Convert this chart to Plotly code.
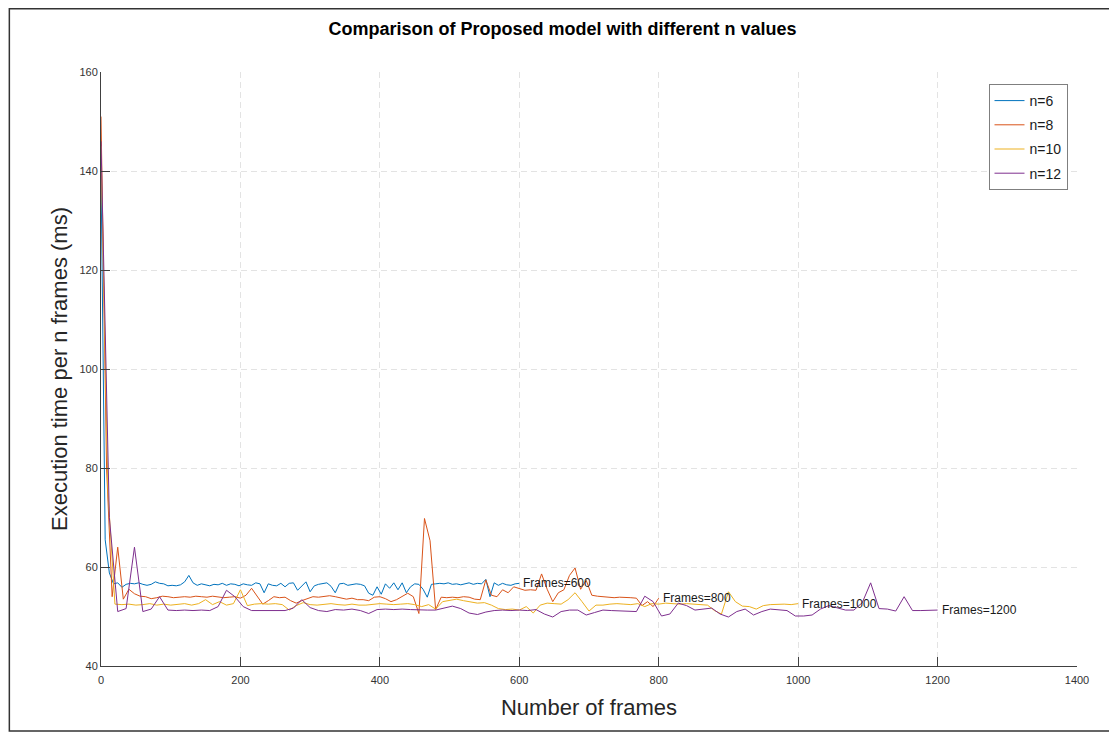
import plotly.graph_objects as go

# ---------------- data ----------------
n_values = [6, 8, 10, 12]
series_names = ["n=6", "n=8", "n=10", "n=12"]

time_n6 = [
    140, 65.5, 58.8, 56.6, 56.8, 55.9, 56.5, 56.7, 56.6, 56.8,
    56.5, 56.3, 56.5, 57.0, 56.7, 56.6, 56.2, 56.3, 56.2, 56.4,
    57.0, 58.3, 56.8, 56.3, 56.6, 56.4, 56.2, 56.5, 56.4, 56.7,
    56.3, 56.6, 56.5, 56.2, 56.6, 56.4, 56.3, 56.8, 56.6, 54.8,
    56.6, 56.3, 56.2, 56.7, 56.0, 56.7, 56.8, 55.3, 56.2, 57.0,
    55.0, 56.2, 56.5, 56.7, 56.8, 56.1, 54.8, 56.6, 56.7, 56.3,
    56.4, 56.6, 56.5, 56.2, 54.7, 54.3, 56.0, 54.5, 56.6, 55.7,
    56.8, 55.4, 56.8, 54.8, 56.0, 56.6, 56.5, 55.5, 53.9, 56.5,
    56.6, 56.7, 56.6, 56.8, 56.5, 56.6, 56.4, 56.6, 56.8, 56.5,
    56.7, 56.6, 57.5, 54.0, 56.8, 56.3, 56.7, 56.4, 56.3, 56.6,
    56.7,
]
time_n8 = [
    151, 80, 54, 64, 53.5, 55.5, 54.6, 54.1, 54.0, 53.6,
    53.8, 54.1, 54.0, 53.8, 53.9, 54.0, 53.9, 54.1, 54.0, 53.9,
    54.1, 54.0, 53.8, 53.9, 54.0, 53.7, 54.3, 55.7, 54.0, 52.5,
    53.2, 54.0, 53.8, 53.9, 53.2, 52.7, 53.2, 53.6, 54.0, 53.9,
    54.1, 54.2, 54.0, 53.7, 53.5, 53.7, 53.4, 53.4, 53.2, 53.9,
    54.0, 53.6, 53.0, 53.4, 54.0, 54.7, 54.0, 50.6, 69.8, 65.3,
    51.4, 53.9, 53.8, 53.9, 53.8, 54.0, 53.9, 53.5, 53.4, 57.4,
    54.3, 54.0, 55.4, 54.8, 56.0, 55.7, 55.3, 55.4, 55.3, 58.6,
    55.5, 53.0, 54.8, 55.4, 58.3, 59.8, 55.5, 57.3, 54.3, 54.1,
    54.0, 54.0, 53.8, 53.9, 53.9, 53.8, 53.7, 52.2, 53.0, 52.0,
    53.7,
]
time_n10 = [
    145, 75, 52.5, 52.4, 52.5, 52.3, 52.4, 52.6, 52.3, 52.5,
    52.3, 52.4, 52.6, 52.3, 52.6, 53.4, 52.4, 53.0, 52.3, 52.6,
    55.4, 52.2, 52.5, 52.6, 52.5, 52.6, 52.4, 51.3, 52.2, 52.8,
    52.4, 52.3, 52.5, 52.6, 52.4, 52.3, 52.5, 52.3, 52.3, 52.5,
    52.6, 52.5, 52.4, 52.5, 52.6, 52.4, 52.0, 52.4, 51.5, 53.0,
    53.3, 53.5, 53.2, 53.0, 52.7, 52.8, 52.3, 51.6, 51.4, 51.5,
    51.3, 52.0, 50.7, 52.3, 52.7, 52.6, 52.5, 53.4, 54.8, 53.0,
    51.1, 52.3, 52.3, 52.5, 52.6, 52.5, 52.4, 52.6, 52.0, 52.6,
    52.5, 52.7, 52.6, 52.5, 52.6, 52.5, 52.4, 52.3, 51.2, 50.5,
    55.0, 53.0, 52.1, 52.0, 51.5, 52.2, 52.4, 52.5, 52.5, 52.4,
    52.6,
]
time_n12 = [
    146, 70, 51.0, 51.6, 64.0, 51.0, 51.5, 54.0, 51.3, 51.2,
    51.3, 51.2, 51.3, 51.2, 52.0, 55.3, 54.0, 52.0, 51.2, 51.2,
    51.3, 51.2, 51.2, 51.7, 53.4, 51.8, 51.2, 51.0, 51.4, 51.3,
    51.5, 51.2, 50.6, 51.4, 51.5, 51.4, 51.5, 51.4, 51.3, 51.3,
    51.3, 51.7, 52.1, 51.6, 50.7, 50.4, 50.9, 51.2, 51.3, 51.2,
    51.3, 51.2, 51.4, 50.5, 49.9, 51.0, 51.3, 51.3, 50.3, 50.8,
    51.3, 51.2, 51.1, 51.1, 51.0, 54.1, 53.0, 50.1, 50.5, 52.7,
    52.2, 51.3, 51.5, 51.7, 50.5, 49.9, 51.0, 51.5, 50.3, 51.0,
    51.5, 51.3, 51.2, 50.1, 50.1, 50.3, 51.5, 52.2, 51.8, 51.3,
    51.3, 52.8, 56.8, 51.6, 51.5, 51.1, 54.0, 51.2, 51.2, 51.3,
    51.3,
]
all_times = [time_n6, time_n8, time_n10, time_n12]

x_ticks = [0, 200, 400, 600, 800, 1000, 1200, 1400]
y_ticks = [40, 60, 80, 100, 120, 140, 160]

colors = ["#0072BD", "#D95319", "#EDB120", "#7E2F8E"]
FONT = "Liberation Sans, Arial, sans-serif"

# ---------------- figure ----------------
fig = go.Figure()
annotations = []
for i, (n, name, vals) in enumerate(zip(n_values, series_names, all_times)):
    frames = [n * k for k in range(len(vals))]
    fig.add_trace(go.Scatter(
        x=frames, y=vals, mode="lines", name=name,
        line=dict(color=colors[i], width=1),
        legendgroup=name,
    ))
    annotations.append(dict(
        x=frames[-1], y=vals[-1], xref="x", yref="y",
        text=f"Frames={frames[-1]}", showarrow=False,
        xanchor="left", yanchor="middle", xshift=2,
        font=dict(family=FONT, size=12, color="#1a1a1a"),
    ))

# page has an 8px body margin; figure is sized to fit the window
W, H = 1109, 728
L, R, T, B = 92.5, 39.5, 64, 70
pw, ph = W - L - R, H - T - B

def fig_to_paper_x(px):
    return (px - L) / pw

def fig_to_paper_y(py):
    return (H - B - py) / ph

axis_common = dict(
    showline=True, linecolor="#404040", linewidth=1, mirror=False,
    ticks="inside", ticklen=9, tickcolor="#404040", tickwidth=1,
    showgrid=True, gridcolor="#e3e3e3", gridwidth=1, griddash="6px,4px",
    zeroline=False,
    tickfont=dict(family=FONT, size=11, color="#333333"),
)

fig.update_layout(
    width=W, height=H,
    margin=dict(l=L, r=R, t=T, b=B),
    paper_bgcolor="white", plot_bgcolor="white",
    title=dict(
        text="<b>Comparison of Proposed model with different n values</b>",
        x=0.5, xref="container", xanchor="center",
        y=1 - 21 / H, yref="container", yanchor="middle",
        font=dict(family=FONT, size=18, color="black"),
    ),
    xaxis=dict(
        range=[0, 1400], tickvals=x_ticks, ticklabelstandoff=4,
        title=dict(text="Number of frames", standoff=14,
                   font=dict(family=FONT, size=22, color="#262626")),
        **axis_common,
    ),
    yaxis=dict(
        range=[40, 160], tickvals=y_ticks,
        title=dict(text="Execution time per n frames (ms)", standoff=5,
                   font=dict(family=FONT, size=22, color="#262626")),
        **axis_common,
    ),
    legend=dict(
        x=fig_to_paper_x(1060), xanchor="right",
        y=fig_to_paper_y(76), yanchor="top",
        bgcolor="white", bordercolor="#7f7f7f", borderwidth=1,
        font=dict(family=FONT, size=14, color="#1a1a1a"),
        tracegroupgap=3,
    ),
    annotations=annotations,
    shapes=[dict(
        type="rect", xref="paper", yref="paper",
        x0=fig_to_paper_x(0.75), x1=fig_to_paper_x(1104.5),
        y0=fig_to_paper_y(723), y1=fig_to_paper_y(0.75),
        line=dict(color="#333333", width=1.5), fillcolor="rgba(0,0,0,0)",
        layer="above",
    )],
    showlegend=True,
)

fig.write_html("out.html")
